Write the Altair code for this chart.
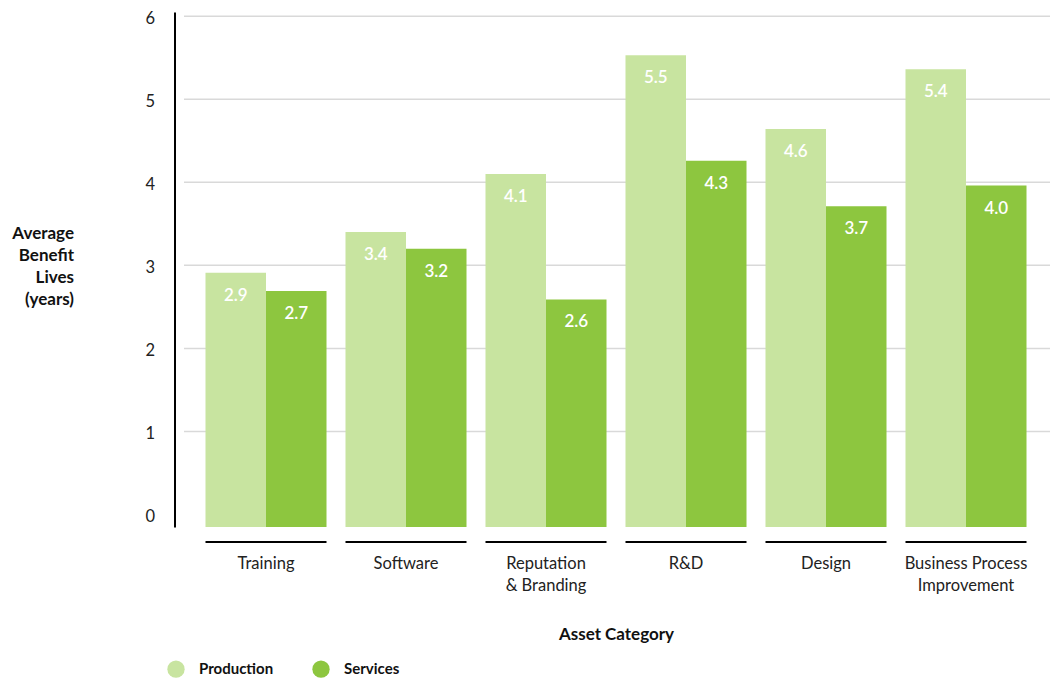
import altair as alt
import pandas as pd

categories = ["Training", "Software", "Reputation & Branding", "R&D", "Design",
              "Business Process Improvement"]
series = ["Production", "Services"]
production = [2.91, 3.40, 4.10, 5.53, 4.64, 5.36]
services = [2.69, 3.20, 2.59, 4.26, 3.71, 3.96]
colors = ["#C8E4A0", "#8DC63F"]
y_ticks = [0, 1, 2, 3, 4, 5, 6]
grid_values = [1, 2, 3, 4, 5, 6]

rows = []
for c, p, s in zip(categories, production, services):
    rows.append({"category": c, "series": series[0], "value": p})
    rows.append({"category": c, "series": series[1], "value": s})
df = pd.DataFrame(rows)
cat_df = pd.DataFrame({"category": categories})
grid_df = pd.DataFrame({"value": grid_values})

FONT = "Lato"
yscale = alt.Scale(domain=[-0.15, 6.05], nice=False, zero=False)
xscale = alt.Scale(paddingInner=19 / 140, paddingOuter=9.5 / 140)
off_scale = alt.Scale(paddingInner=0, paddingOuter=0)

label_expr = ("datum.label == 'Reputation & Branding' ? ['Reputation', '& Branding'] : "
              "datum.label == 'Business Process Improvement' ? ['Business Process', 'Improvement'] : datum.label")

x_axis = alt.Axis(title="Asset Category", labelExpr=label_expr, domain=False, ticks=False,
                  grid=False, labelAngle=0, labelFontSize=16.5, labelColor="#222222",
                  labelBaseline="top", labelPadding=28, labelLineHeight=22, titleFontSize=17,
                  titleFontWeight="bold", titleColor="#111111", titleY=107,
                  titleBaseline="middle")
y_axis = alt.Axis(title=["Average", "Benefit", "Lives", "(years)"], values=y_ticks, grid=False,
                  ticks=False, domainColor="#000000", domainWidth=2, offset=21.5,
                  labelFontSize=16.5, labelColor="#222222", labelPadding=20, labelOffset=2,
                  titleAngle=0, titleAlign="right", titleBaseline="middle", titleX=-101,
                  titleY=221, titleFontSize=17, titleFontWeight="bold", titleColor="#111111",
                  titleLineHeight=22)

X = alt.X("category:N", sort=categories, scale=xscale, axis=x_axis)
Y = alt.Y("value:Q", scale=yscale, axis=y_axis)
XO = alt.XOffset("series:N", sort=series, scale=off_scale)

grid = alt.Chart(grid_df).mark_rule(color="#D9D9D9", strokeWidth=1.5).encode(
    y=Y,
    x=alt.value(-12),
    x2=alt.value(854),
)

bars = alt.Chart(df).mark_bar().encode(
    x=X,
    xOffset=XO,
    y=Y,
    y2=alt.Y2(datum=-0.15),
    color=alt.Color("series:N", sort=series, scale=alt.Scale(domain=series, range=colors),
                    legend=alt.Legend(title=None, orient="none", direction="horizontal",
                                      legendX=-29, legendY=648, symbolType="circle",
                                      symbolSize=300, symbolStrokeWidth=0, symbolOpacity=1,
                                      labelFontSize=15, labelFontWeight="bold",
                                      labelColor="#111111", labelOffset=14, columnPadding=38)),
)

underline = alt.Chart(cat_df).mark_rect(color="#000000").encode(
    x=X,
    y=alt.value(529),
    y2=alt.value(531),
)

labels = alt.Chart(df).mark_text(color="white", baseline="middle", dy=23, fontSize=17,
                                 fontWeight=600).encode(
    x=X,
    xOffset=XO,
    y=Y,
    text=alt.Text("value:Q", format=".1f"),
)

chart = alt.layer(grid, bars, underline, labels).properties(
    width=840, height=515,
    autosize=alt.AutoSizeParams(type="none"),
    padding={"left": 196, "top": 12, "right": 22, "bottom": 152},
).configure(font=FONT).configure_view(stroke=None)

chart.save("out.html", embed_options={"renderer": "svg", "actions": False})
